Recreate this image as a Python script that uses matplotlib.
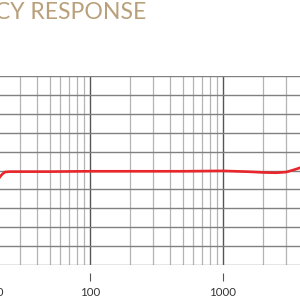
import matplotlib
matplotlib.use("Agg")
import matplotlib.pyplot as plt
from matplotlib.ticker import FixedLocator

# frequency response data (Hz, dB)
freq = [20, 21, 22, 23, 25, 30, 50, 100, 200, 500, 1000, 1500, 2000, 2500, 3000, 3500, 4000, 5000]
resp = [-3.0, -1.7, -0.9, -0.4, -0.3, -0.3, -0.3, -0.2, -0.2, -0.2, -0.1, -0.3, -0.5, -0.6, -0.4, 0.3, 1.0, 2.0]
ref_resp = [-3.0, -1.7, -0.9, -0.4, -0.3, -0.3, -0.3, -0.2, -0.2, -0.2, -0.1, -0.4, -0.6, -0.7, -0.5, 0.2, 0.9, 1.9]

major_ticks = [20, 100, 1000]
major_labels = ["20", "100", "1000"]
minor_grid = [30, 40, 50, 60, 70, 80, 90, 200, 300, 400, 500, 600, 700, 800, 900,
              2000, 3000, 4000, 5000, 6000, 7000, 8000, 9000]
decade_grid = [100, 1000, 10000]
db_ticks = list(range(-25, 30, 5))

fig = plt.figure(figsize=(3, 3), dpi=100)
# axes run past the picture on both sides (20 Hz .. 20 kHz)
ax = fig.add_axes([-3 / 300, 35 / 300, 399 / 300, 189 / 300])
ax.set_xscale("log")
ax.set_xlim(20, 20000)
ax.set_ylim(-25, 25)

for f in minor_grid:
    ax.axvline(f, color="#b4b4b4", lw=0.9, zorder=1)
for f in decade_grid:
    ax.axvline(f, color="#555555", lw=1.0, zorder=1)
for d in db_ticks:
    ax.axhline(d, color="#808080", lw=1.0, zorder=1)

ax.plot(freq, ref_resp, color="#8aa0a0", lw=0.8, zorder=2)
ax.plot(freq, resp, color="#e8262b", lw=1.9, zorder=3, solid_capstyle="round")

for s in ax.spines.values():
    s.set_visible(False)
ax.spines["bottom"].set_position(("outward", 5.8))
ax.xaxis.set_major_locator(FixedLocator(major_ticks))
ax.xaxis.set_minor_locator(FixedLocator([]))
ax.set_xticklabels(major_labels)
ax.tick_params(axis="x", length=5.8, width=0.8, color="#555555", pad=4.5,
               labelsize=8.3, labelcolor="#333333")
ax.set_yticks([])
for lab in ax.get_xticklabels():
    lab.set_family("Lato")

fig.text(146 / 300, 1 - 18 / 300, "FREQUENCY RESPONSE", ha="right", va="baseline",
         fontsize=16.6, color="#b9a07a", family="Lato")

fig.savefig("out.png", dpi=100)
